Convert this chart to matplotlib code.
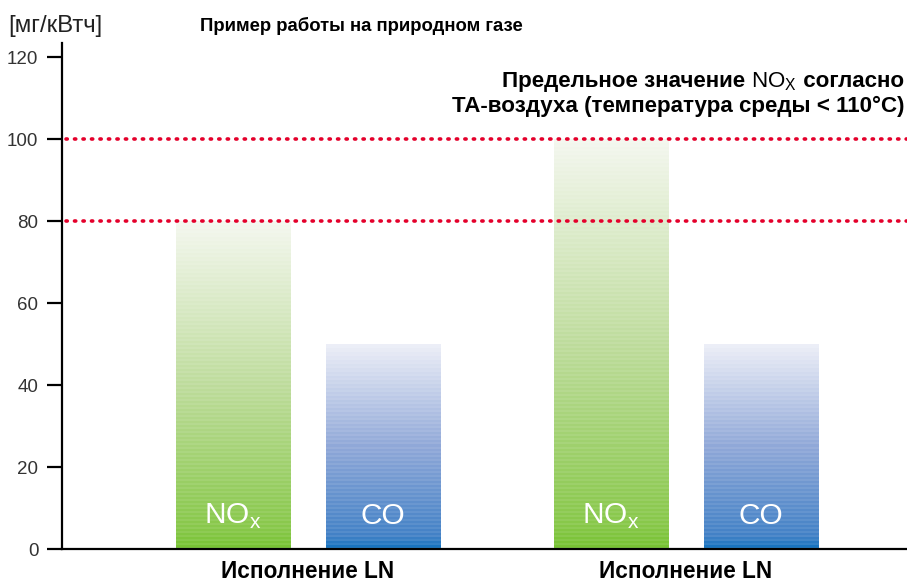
import numpy as np
import matplotlib
matplotlib.use("Agg")
import matplotlib.pyplot as plt
from matplotlib.colors import to_rgb

plt.rcParams['font.family'] = ['Liberation Sans', 'DejaVu Sans']

# ---- data ----
groups = ["Исполнение LN", "Исполнение LN"]
bar_labels = ["NO$_\\mathregular{x}$", "CO", "NO$_\\mathregular{x}$", "CO"]
bar_values = [80, 50, 100, 50]
bar_kinds = ["nox", "co", "nox", "co"]
limit_values = [100, 80]
yticks = [0, 20, 40, 60, 80, 100, 120]
unit_label = "[мг/кВтч]"
title = "Пример работы на природном газе"
limit_line1_a = "Предельное значение "
limit_line1_b = "NO$_\\mathregular{X}$"
limit_line1_c = " согласно"
limit_line2 = "ТА-воздуха (температура среды < 110°С)"

positions = [0.0, 1.0, 2.52, 3.52]
group_centers = [0.5, 3.02]
bar_width = 0.76

gradient_stops = {
    "nox": [(0.0, "#76c232"), (0.06, "#88c84a"), (0.5, "#bedc9c"), (1.0, "#f4f7ef")],
    "co": [(0.0, "#1272bf"), (0.06, "#4281c6"), (0.5, "#90a8d8"), (1.0, "#eceef7")],
}

W, H = 907, 582
fig = plt.figure(figsize=(W / 100, H / 100), dpi=100)
ax = fig.add_axes([62 / W, 1 - 549 / H, (W - 62) / W, (549 - 43) / H])

ax.set_xlim(-1.14, 4.493)
ymax = 120 + 14 / 4.1
ax.set_ylim(0, ymax)

for x, v, kind, lab in zip(positions, bar_values, bar_kinds, bar_labels):
    n = int(v * 4.1 / 2)
    t = np.linspace(0, 1, n)
    stops = gradient_stops[kind]
    pos = [s[0] for s in stops]
    cols = np.array([to_rgb(s[1]) for s in stops])
    rows = np.stack([np.interp(t, pos, cols[:, k]) for k in range(3)], axis=1)
    stripe = np.where(np.arange(n) % 2 == 0, 1.0, 0.0)[:, None]
    rows = rows + (1 - rows) * 0.08 * stripe
    img = rows[:, None, :]
    ax.imshow(img, extent=(x - bar_width / 2, x + bar_width / 2, 0, v),
              origin='lower', aspect='auto', interpolation='nearest', zorder=1)
    ax.text(x, 6.2, lab, color='white', fontsize=21.5, ha='center', va='baseline', zorder=3)

for lv in limit_values:
    ax.axhline(lv, color='#e4002b', lw=2.6, linestyle=(0, (0.35, 2.0)),
               dash_capstyle='round', xmin=4 / 845, zorder=4)

ax.spines['top'].set_visible(False)
ax.spines['right'].set_visible(False)
ax.spines['left'].set_linewidth(1.6)
ax.spines['bottom'].set_linewidth(1.6)
ax.spines['left'].set_zorder(5)
ax.spines['bottom'].set_zorder(5)
ax.set_yticks(yticks)
ax.set_yticklabels([str(t) for t in yticks])
ax.tick_params(axis='y', direction='out', length=11, width=1.6, pad=6,
               labelsize=13.5, labelcolor='#333333')
ax.set_xticks([])

for gx, g in zip(group_centers, groups):
    ax.text(gx, -(577.5 - 549) / 4.1, g, ha='center', va='baseline',
            fontsize=16.3, fontweight='bold')

fig.text(8 / W, 1 - 32 / H, unit_label, fontsize=17.3, ha='left', va='baseline',
         color='#222222')
fig.text(200 / W, 1 - 31 / H, title, fontsize=13.3, fontweight='bold',
         ha='left', va='baseline')

# limit annotation, right aligned, mixed weights
fig.canvas.draw()
r = fig.canvas.get_renderer()
right = 904
base1 = 1 - 87 / H
base2 = 1 - 112 / H
fs = 16.1
fig.text(right / W, base2, limit_line2, fontsize=fs, fontweight='bold',
         ha='right', va='baseline')
tc = fig.text(right / W, base1, limit_line1_c, fontsize=fs, fontweight='bold',
              ha='right', va='baseline')
wc = tc.get_window_extent(r).width
tb = fig.text((right - wc) / W, base1, limit_line1_b, fontsize=fs,
              ha='right', va='baseline')
wb = tb.get_window_extent(r).width
fig.text((right - wc - wb) / W, base1, limit_line1_a, fontsize=fs,
         fontweight='bold', ha='right', va='baseline')

fig.savefig("out.png", dpi=100)
